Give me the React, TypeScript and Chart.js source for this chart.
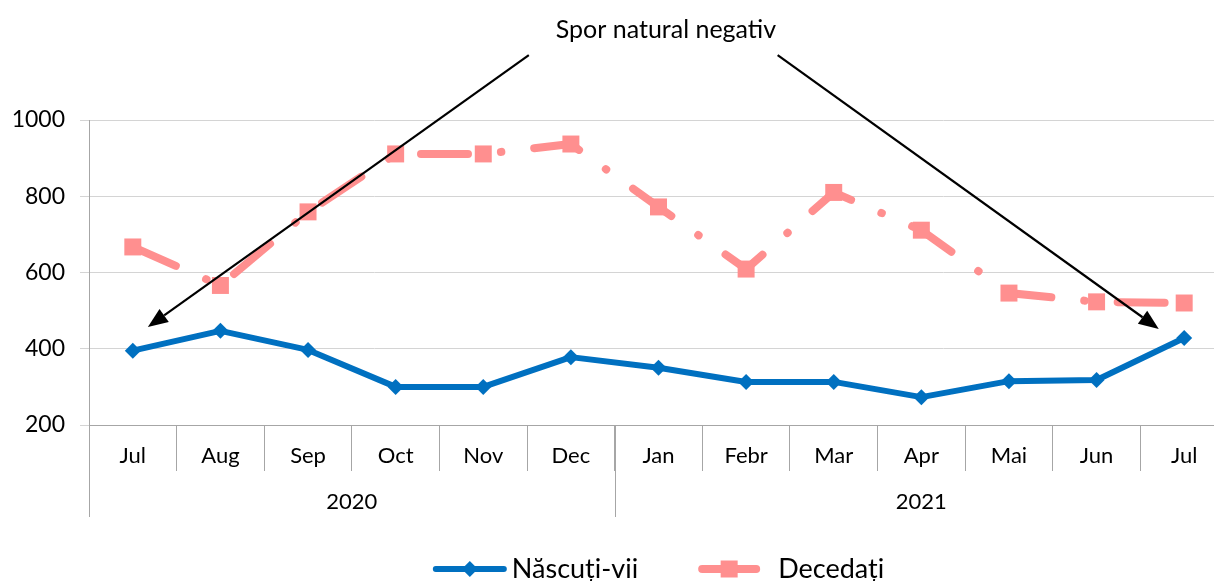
import React, { useEffect, useRef } from 'react';
import { Chart, registerables } from 'chart.js';

Chart.register(...registerables);

// ---- data ----
const months = ['Jul', 'Aug', 'Sep', 'Oct', 'Nov', 'Dec', 'Jan', 'Febr', 'Mar', 'Apr', 'Mai', 'Jun', 'Jul'];
const years = ['2020', '2021'];
const yearSpans = [6, 7];
const born = [395, 447, 397, 300, 300, 378, 350, 313, 313, 273, 315, 318, 428];
const deaths = [667, 566, 759, 911, 911, 937, 772, 609, 810, 711, 546, 523, 520];
const yTicks = [200, 400, 600, 800, 1000];
const seriesNames = ['Născuți-vii', 'Decedați'];
const annotationText = 'Spor natural negativ';
// annotation anchors in data space: [category index, value]
const titleAnchor = [6.085, 1236];
const arrows = [
  { from: [4.52, 1170], to: [0.172, 457] },
  { from: [7.36, 1170], to: [11.71, 452] },
];

// ---- styles ----
const FONT = 'Lato, "Noto Sans", sans-serif';
const BLUE = '#0070C0';
const PINK = '#FF8F8F';
const GRID = '#D4D4D4';
const AXIS = '#A6A6A6';

function drawArrow(ctx: CanvasRenderingContext2D, x0: number, y0: number, x1: number, y1: number) {
  const ang = Math.atan2(y1 - y0, x1 - x0);
  const headLen = 20;
  const headHalf = 8;
  const bx = x1 - headLen * Math.cos(ang);
  const by = y1 - headLen * Math.sin(ang);
  ctx.beginPath();
  ctx.moveTo(x0, y0);
  ctx.lineTo(bx, by);
  ctx.strokeStyle = '#000';
  ctx.lineWidth = 2.2;
  ctx.stroke();
  ctx.beginPath();
  ctx.moveTo(x1, y1);
  ctx.lineTo(bx + headHalf * Math.sin(ang), by - headHalf * Math.cos(ang));
  ctx.lineTo(bx - headHalf * Math.sin(ang), by + headHalf * Math.cos(ang));
  ctx.closePath();
  ctx.fillStyle = '#000';
  ctx.fill();
}

const overlayPlugin = {
  id: 'overlay',
  afterDatasetsDraw(chart: any) {
    const { ctx, chartArea } = chart;
    const x = chart.scales.x;
    const y = chart.scales.y;
    const half = (x.getPixelForValue(1) - x.getPixelForValue(0)) / 2;
    const bottom = chartArea.bottom;
    ctx.save();

    // year groups
    let start = 0;
    ctx.strokeStyle = AXIS;
    ctx.lineWidth = 1;
    ctx.font = `22px ${FONT}`;
    ctx.fillStyle = '#000';
    ctx.textAlign = 'center';
    ctx.textBaseline = 'middle';
    const bounds: number[] = [];
    yearSpans.forEach((span, k) => {
      const x0 = x.getPixelForValue(start) - half;
      const x1 = x.getPixelForValue(start + span - 1) + half;
      bounds.push(x0, x1);
      ctx.fillText(years[k], (x0 + x1) / 2, bottom + 77);
      start += span;
    });
    Array.from(new Set(bounds.map((b) => Math.round(b)))).forEach((bx) => {
      ctx.beginPath();
      ctx.moveTo(bx + 0.5, bottom);
      ctx.lineTo(bx + 0.5, bottom + 92);
      ctx.stroke();
    });

    // arrows
    arrows.forEach((a) => {
      drawArrow(
        ctx,
        x.getPixelForValue(a.from[0]),
        y.getPixelForValue(a.from[1]),
        x.getPixelForValue(a.to[0]),
        y.getPixelForValue(a.to[1])
      );
    });

    // annotation text
    ctx.font = `25px ${FONT}`;
    ctx.fillStyle = '#000';
    ctx.textAlign = 'center';
    ctx.textBaseline = 'middle';
    ctx.fillText(annotationText, x.getPixelForValue(titleAnchor[0]), y.getPixelForValue(titleAnchor[1]));

    // legend
    ctx.font = `27px ${FONT}`;
    const items = [
      { name: seriesNames[0], color: BLUE, lw: 6, marker: 'diamond', symW: 74, gap: 5 },
      { name: seriesNames[1], color: PINK, lw: 8, marker: 'square', symW: 62, gap: 18 },
    ];
    const itemGap = 60;
    const widths = items.map((it) => it.symW + it.gap + ctx.measureText(it.name).width);
    const total = widths.reduce((s, w) => s + w, 0) + itemGap;
    let lx = (chartArea.left + chartArea.right) / 2 - total / 2;
    const ly = bottom + 144;
    items.forEach((it, i) => {
      ctx.beginPath();
      ctx.strokeStyle = it.color;
      ctx.lineWidth = it.lw;
      ctx.lineCap = 'round';
      ctx.moveTo(lx + it.lw / 2, ly);
      ctx.lineTo(lx + it.symW - it.lw / 2, ly);
      ctx.stroke();
      const mx = lx + it.symW / 2;
      ctx.fillStyle = it.color;
      ctx.beginPath();
      if (it.marker === 'diamond') {
        ctx.moveTo(mx, ly - 8);
        ctx.lineTo(mx + 8, ly);
        ctx.lineTo(mx, ly + 8);
        ctx.lineTo(mx - 8, ly);
        ctx.closePath();
      } else {
        ctx.rect(mx - 8.5, ly - 8.5, 17, 17);
      }
      ctx.fill();
      ctx.fillStyle = '#000';
      ctx.textAlign = 'left';
      ctx.textBaseline = 'middle';
      ctx.fillText(it.name, lx + it.symW + it.gap, ly);
      lx += widths[i] + itemGap;
    });

    ctx.restore();
  },
};

export default function App() {
  const ref = useRef<HTMLCanvasElement | null>(null);

  useEffect(() => {
    if (!ref.current) return;
    const chart = new Chart(ref.current, {
      type: 'line',
      data: {
        labels: months,
        datasets: [
          {
            label: seriesNames[0],
            data: born,
            borderColor: BLUE,
            backgroundColor: BLUE,
            borderWidth: 6,
            tension: 0,
            pointStyle: 'rectRot',
            pointRadius: 8,
            pointBorderWidth: 0,
            pointBackgroundColor: BLUE,
            borderJoinStyle: 'round',
          },
          {
            label: seriesNames[1],
            data: deaths,
            borderColor: PINK,
            backgroundColor: PINK,
            borderWidth: 8,
            tension: 0,
            borderDash: [47, 33, 0.5, 33],
            borderCapStyle: 'round',
            pointStyle: 'rect',
            pointRadius: 12,
            pointBorderWidth: 0,
            pointBackgroundColor: PINK,
          },
        ],
      },
      options: {
        responsive: false,
        animation: false,
        layout: { padding: { top: 120, right: 10, left: 0, bottom: 0 } },
        plugins: {
          legend: { display: false },
          tooltip: { enabled: false },
          title: { display: false },
        },
        scales: {
          x: {
            type: 'category',
            offset: true,
            grid: {
              offset: true,
              drawOnChartArea: false,
              drawTicks: true,
              tickLength: 46,
              color: AXIS,
              lineWidth: 1,
            },
            border: { color: AXIS, width: 1 },
            ticks: {
              font: { family: FONT, size: 22 },
              color: '#000',
              padding: -28,
              maxRotation: 0,
              minRotation: 0,
              autoSkip: false,
            },
            afterFit: (s: any) => {
              s.height = 156;
            },
          },
          y: {
            min: 200,
            max: 1000,
            afterBuildTicks: (s: any) => {
              s.ticks = yTicks.map((v) => ({ value: v }));
            },
            ticks: {
              font: { family: FONT, size: 23 },
              color: '#000',
              padding: 15,
              callback: (v: any) => String(v),
            },
            grid: { color: GRID, tickLength: 9, lineWidth: 1 },
            border: { color: AXIS, width: 1 },
            afterFit: (s: any) => {
              s.width = 89;
            },
          },
        },
      },
      plugins: [overlayPlugin],
    } as any);
    return () => chart.destroy();
  }, []);

  return (
    <div
      style={{
        position: 'fixed',
        left: 0,
        top: 0,
        width: 1214,
        height: 581,
        overflow: 'hidden',
        background: '#fff',
      }}
    >
      <canvas ref={ref} width={1240} height={581} style={{ display: 'block' }} />
    </div>
  );
}
